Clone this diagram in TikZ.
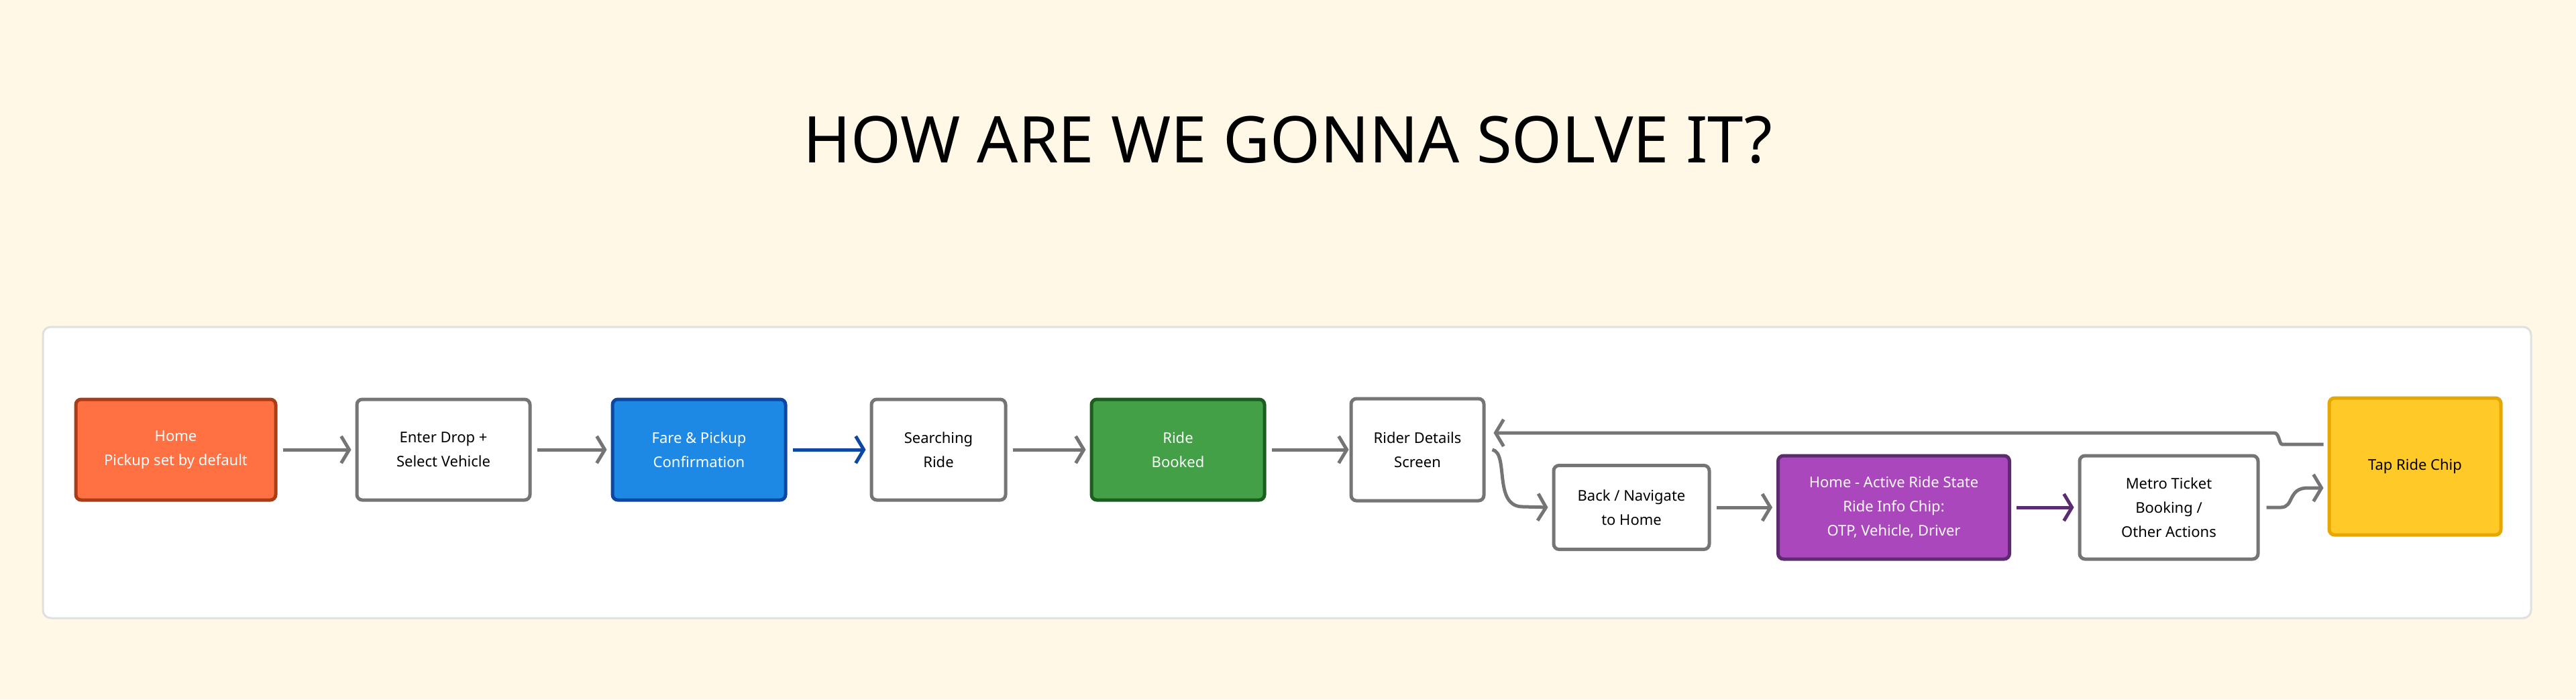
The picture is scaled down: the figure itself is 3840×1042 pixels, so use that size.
\documentclass[tikz,border=0pt]{standalone}
\usepackage{fontspec}
\setmainfont{Noto Sans}
\usetikzlibrary{arrows.meta,calc}
\definecolor{bg}{HTML}{FFF8E6}
\definecolor{gr}{HTML}{757575}
\definecolor{orf}{HTML}{FF7043}\definecolor{ord}{HTML}{A83D17}
\definecolor{blf}{HTML}{1E88E5}\definecolor{bld}{HTML}{0D47A1}
\definecolor{gnf}{HTML}{43A047}\definecolor{gnd}{HTML}{1B5E20}
\definecolor{puf}{HTML}{AB47BC}\definecolor{pud}{HTML}{5B2C6F}
\definecolor{yef}{HTML}{FFCA28}\definecolor{yed}{HTML}{E6A700}
\begin{document}
\begin{tikzpicture}[x=1pt,y=-1pt,
 box/.style={draw=gr,fill=white,line width=5pt,rounded corners=8pt,align=center,
   font=\fontsize{22}{36}\selectfont,inner sep=0pt},
 arr/.style={draw=gr,line width=5pt,-{Straight Barb[length=12pt,width=40pt,line width=5pt]}},
]
\useasboundingbox (0,0) rectangle (3840,1042);
\fill[bg] (0,0) rectangle (3840,1042);
\draw[draw=black!12,fill=white,line width=3pt,rounded corners=12pt] (64,487) rectangle (3773,921);
\node[font=\fontsize{96}{100}\selectfont\bfseries] (title) at (1920,208) {HOW ARE WE GONNA SOLVE IT?};
\node[box,fill=orf,draw=ord,text=white,minimum width=298pt,minimum height=150pt] (home) at (262,670) {Home\\Pickup set by default};
\node[box,minimum width=258pt,minimum height=150pt] (enter) at (661,670) {Enter Drop +\\Select Vehicle};
\node[box,fill=blf,draw=bld,text=white,minimum width=258pt,minimum height=150pt] (fare) at (1042,670) {Fare \& Pickup\\Confirmation};
\node[box,minimum width=200pt,minimum height=150pt] (search) at (1399,670) {Searching\\Ride};
\node[box,fill=gnf,draw=gnd,text=white,minimum width=258pt,minimum height=150pt] (booked) at (1756,670) {Ride\\Booked};
\node[box,minimum width=198pt,minimum height=152pt] (rider) at (2113,670) {Rider Details\\Screen};
\node[box,minimum width=232pt,minimum height=125pt] (back) at (2432,756) {Back / Navigate\\to Home};
\node[box,fill=puf,draw=pud,text=white,minimum width=345pt,minimum height=154pt] (active) at (2823,756) {Home - Active Ride State\\Ride Info Chip:\\OTP, Vehicle, Driver};
\node[box,minimum width=266pt,minimum height=154pt] (metro) at (3233,756) {Metro Ticket\\Booking /\\Other Actions};
\node[box,fill=yef,draw=yed,minimum width=256pt,minimum height=204pt] (tap) at (3600,695) {Tap Ride Chip};
\draw[arr] ($(home.east)+(8,0)$) -- ($(enter.west)+(-6,0)$);
\draw[arr] ($(enter.east)+(8,0)$) -- ($(fare.west)+(-6,0)$);
\draw[arr,draw=bld] ($(fare.east)+(8,0)$) -- ($(search.west)+(-6,0)$);
\draw[arr] ($(search.east)+(8,0)$) -- ($(booked.west)+(-6,0)$);
\draw[arr] ($(booked.east)+(8,0)$) -- ($(rider.east|-rider.west)+(-204,0)$);
\draw[arr] ($(tap.west)+(-6,-33)$) -- (3402,662) .. controls (3397,662) and (3398,645) .. (3390,645) -- ($(rider.east)+(12,-25)$);
\draw[arr] ($(rider.east)+(10,0)$) .. controls (2250,675) and (2225,755) .. (2270,755) -- ($(back.west)+(-6,0)$);
\draw[arr] ($(back.east)+(8,0)$) -- ($(active.west)+(-6,0)$);
\draw[arr,draw=pud] ($(active.east)+(8,0)$) -- ($(metro.west)+(-6,0)$);
\draw[arr] ($(metro.east)+(10,0)$) -- (3400,756) .. controls (3420,756) and (3410,727) .. (3440,727) -- ($(tap.west)+(-6,32)$);
\end{tikzpicture}
\end{document}
